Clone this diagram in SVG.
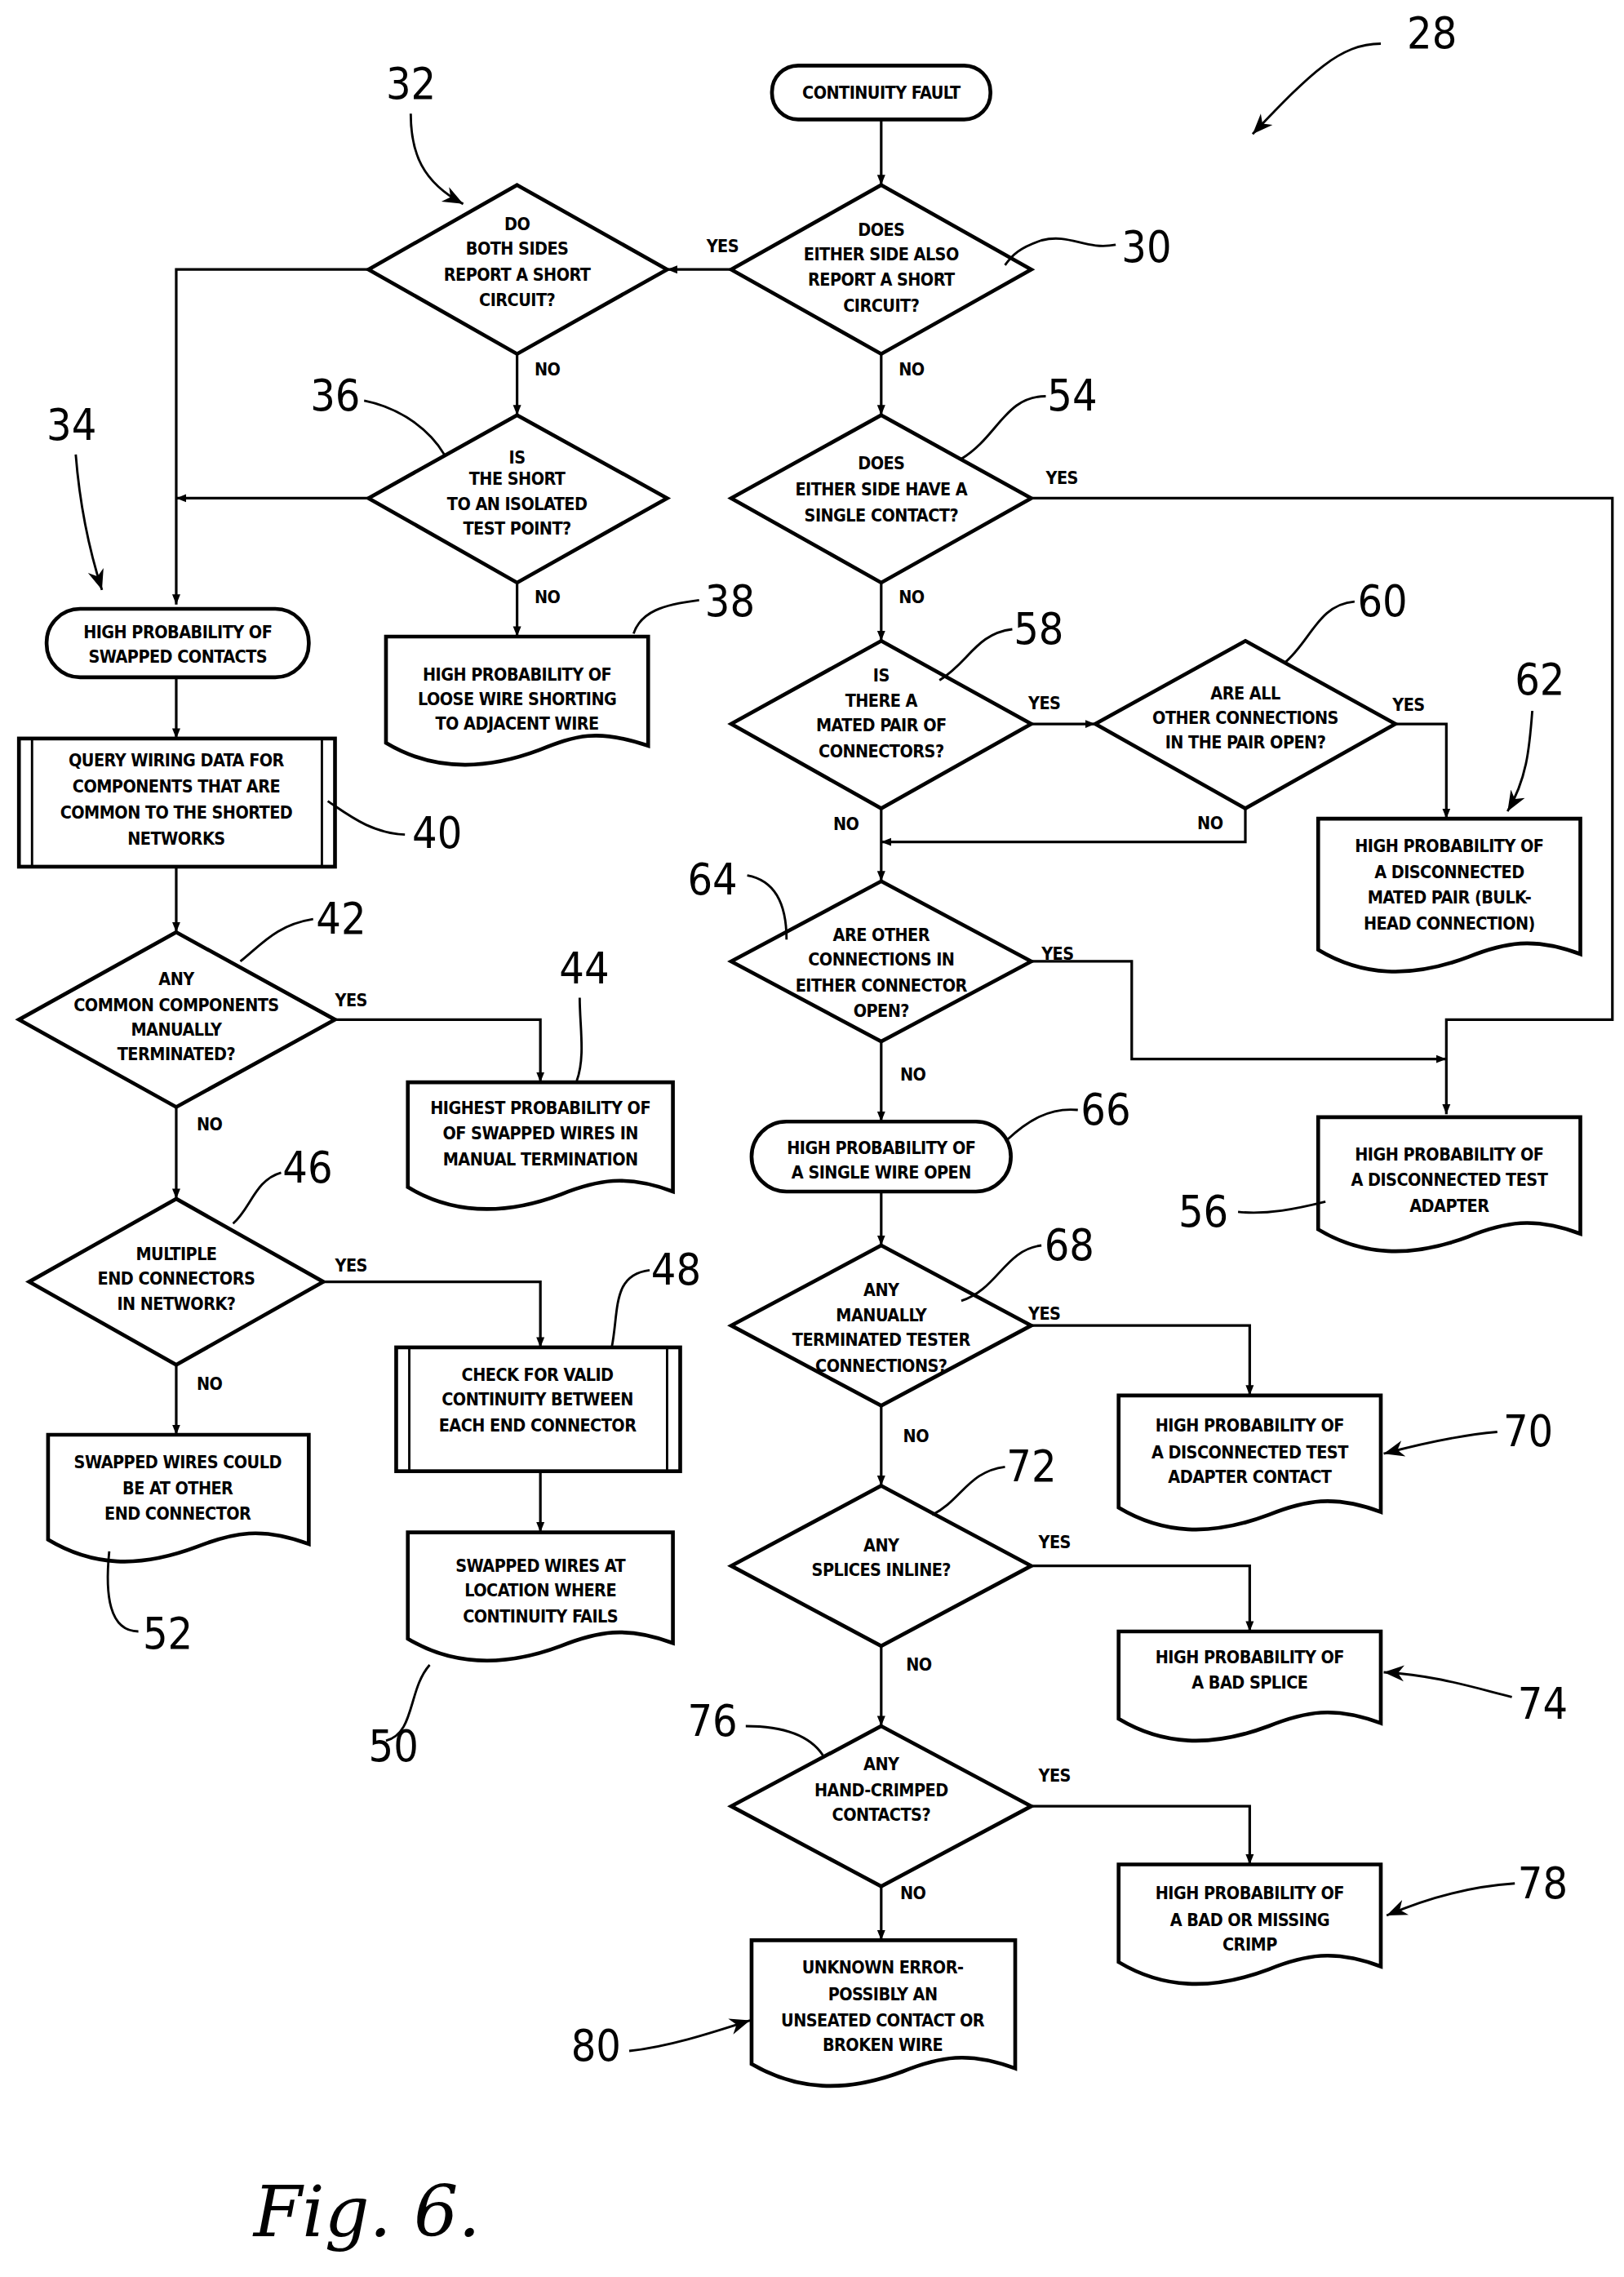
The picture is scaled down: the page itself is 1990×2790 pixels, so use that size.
<svg xmlns="http://www.w3.org/2000/svg" width="1990" height="2790" viewBox="0 0 1990 2790">
<style>
.s{fill:#fff;stroke:#000;stroke-width:2.6}
.c{fill:none;stroke:#000;stroke-width:1.6}
.l{fill:none;stroke:#000;stroke-width:1.8}
text{font-family:"DejaVu Sans Condensed","Liberation Sans",sans-serif;font-weight:bold;font-size:12px;letter-spacing:-0.3px;text-anchor:middle;fill:#000}
.n{font-weight:normal;font-size:30px;letter-spacing:0;text-anchor:start}
.y{font-size:12px;text-anchor:start}
</style>
<defs>
<marker id="a" viewBox="0 0 10 10" refX="10" refY="5" markerWidth="7" markerHeight="7" orient="auto" markerUnits="userSpaceOnUse"><path d="M0,1 L10,5 L0,9 Z"/></marker>
<marker id="b" viewBox="0 0 10 10" refX="10" refY="5" markerWidth="14" markerHeight="14" orient="auto" markerUnits="userSpaceOnUse"><path d="M0,1 L10,5 L0,9 L3,5 Z"/></marker>
</defs>
<rect width="1990" height="2790" fill="#fff"/>
<g transform="scale(1.7848)">
<g id="connectors">
<path class="l" d="M605,82 V127" marker-end="url(#a)"/>
<path class="l" d="M502,185 H458" marker-end="url(#a)"/>
<path class="l" d="M253,185 H121 V415" marker-end="url(#a)"/>
<path class="l" d="M355,243 V285" marker-end="url(#a)"/>
<path class="l" d="M253,342 H121" marker-end="url(#a)"/>
<path class="l" d="M355,400 V437" marker-end="url(#a)"/>
<path class="l" d="M121,465 V507" marker-end="url(#a)"/>
<path class="l" d="M121,595 V640" marker-end="url(#a)"/>
<path class="l" d="M230,700 H371 V743" marker-end="url(#a)"/>
<path class="l" d="M121,760 V823" marker-end="url(#a)"/>
<path class="l" d="M222,880 H371 V925" marker-end="url(#a)"/>
<path class="l" d="M371,1010 V1052" marker-end="url(#a)"/>
<path class="l" d="M121,937 V985" marker-end="url(#a)"/>
<path class="l" d="M605,243 V285" marker-end="url(#a)"/>
<path class="l" d="M708,342 H1107 V700 H993 V765" marker-end="url(#a)"/>
<path class="l" d="M605,400 V440" marker-end="url(#a)"/>
<path class="l" d="M708,497 H752" marker-end="url(#a)"/>
<path class="l" d="M958,497 H993 V562" marker-end="url(#a)"/>
<path class="l" d="M855,555 V578 H605" marker-end="url(#a)"/>
<path class="l" d="M605,555 V605" marker-end="url(#a)"/>
<path class="l" d="M708,660 H777 V727 H993" marker-end="url(#a)"/>
<path class="l" d="M605,715 V770" marker-end="url(#a)"/>
<path class="l" d="M605,818 V855" marker-end="url(#a)"/>
<path class="l" d="M708,910 H858 V958" marker-end="url(#a)"/>
<path class="l" d="M605,965 V1020" marker-end="url(#a)"/>
<path class="l" d="M708,1075 H858 V1120" marker-end="url(#a)"/>
<path class="l" d="M605,1130 V1185" marker-end="url(#a)"/>
<path class="l" d="M708,1240 H858 V1280" marker-end="url(#a)"/>
<path class="l" d="M605,1295 V1332" marker-end="url(#a)"/>
<text class="y" x="485" y="173">YES</text>
<text class="y" x="367" y="258">NO</text>
<text class="y" x="367" y="414">NO</text>
<text class="y" x="230" y="691">YES</text>
<text class="y" x="135" y="776">NO</text>
<text class="y" x="230" y="873">YES</text>
<text class="y" x="135" y="954">NO</text>
<text class="y" x="617" y="258">NO</text>
<text class="y" x="718" y="332">YES</text>
<text class="y" x="617" y="414">NO</text>
<text class="y" x="706" y="487">YES</text>
<text class="y" x="956" y="488">YES</text>
<text class="y" x="572" y="570">NO</text>
<text class="y" x="822" y="569">NO</text>
<text class="y" x="715" y="659">YES</text>
<text class="y" x="618" y="742">NO</text>
<text class="y" x="706" y="906">YES</text>
<text class="y" x="620" y="990">NO</text>
<text class="y" x="713" y="1063">YES</text>
<text class="y" x="622" y="1147">NO</text>
<text class="y" x="713" y="1223">YES</text>
<text class="y" x="618" y="1304">NO</text>
</g>
<g id="n_start"><rect class="s" x="530" y="45" width="150" height="37" rx="18"/><text x="605" y="68">CONTINUITY FAULT</text></g>
<g id="n30"><path class="s" d="M605,127 L708,185 L605,243 L502,185 Z"/><text x="605" y="162">DOES</text><text x="605" y="179">EITHER SIDE ALSO</text><text x="605" y="196">REPORT A SHORT</text><text x="605" y="214">CIRCUIT?</text></g>
<g id="n32"><path class="s" d="M355,127 L458,185 L355,243 L253,185 Z"/><text x="355" y="158">DO</text><text x="355" y="175">BOTH SIDES</text><text x="355" y="193">REPORT A SHORT</text><text x="355" y="210">CIRCUIT?</text></g>
<g id="n36"><path class="s" d="M355,285 L458,342 L355,400 L253,342 Z"/><text x="355" y="318">IS</text><text x="355" y="333">THE SHORT</text><text x="355" y="350">TO AN ISOLATED</text><text x="355" y="367">TEST POINT?</text></g>
<g id="n38"><path class="s" d="M265,437 H445 V512 C410,500 395,505 370,515 C330,530 295,528 265,510 Z"/><text x="355" y="467">HIGH PROBABILITY OF</text><text x="355" y="484">LOOSE WIRE SHORTING</text><text x="355" y="501">TO ADJACENT WIRE</text></g>
<g id="n34"><rect class="s" x="32" y="418" width="180" height="47" rx="23"/><text x="122" y="438">HIGH PROBABILITY OF</text><text x="122" y="455">SWAPPED CONTACTS</text></g>
<g id="n40"><rect class="s" x="13" y="507" width="217" height="88"/><path class="c" d="M22,507 V595 M221,507 V595"/><text x="121" y="526">QUERY WIRING DATA FOR</text><text x="121" y="544">COMPONENTS THAT ARE</text><text x="121" y="562">COMMON TO THE SHORTED</text><text x="121" y="580">NETWORKS</text></g>
<g id="n42"><path class="s" d="M121,640 L230,700 L121,760 L13,700 Z"/><text x="121" y="676">ANY</text><text x="121" y="694">COMMON COMPONENTS</text><text x="121" y="711">MANUALLY</text><text x="121" y="728">TERMINATED?</text></g>
<g id="n44"><path class="s" d="M280,743 H462 V818 C430,806 410,810 385,820 C345,835 310,833 280,815 Z"/><text x="371" y="765">HIGHEST PROBABILITY OF</text><text x="371" y="782">OF SWAPPED WIRES IN</text><text x="371" y="800">MANUAL TERMINATION</text></g>
<g id="n46"><path class="s" d="M121,823 L222,880 L121,937 L20,880 Z"/><text x="121" y="865">MULTIPLE</text><text x="121" y="882">END CONNECTORS</text><text x="121" y="899">IN NETWORK?</text></g>
<g id="n48"><rect class="s" x="272" y="925" width="195" height="85"/><path class="c" d="M281,925 V1010 M458,925 V1010"/><text x="369" y="948">CHECK FOR VALID</text><text x="369" y="965">CONTINUITY BETWEEN</text><text x="369" y="983">EACH END CONNECTOR</text></g>
<g id="n50"><path class="s" d="M280,1052 H462 V1128 C430,1116 410,1120 385,1130 C345,1145 310,1143 280,1125 Z"/><text x="371" y="1079">SWAPPED WIRES AT</text><text x="371" y="1096">LOCATION WHERE</text><text x="371" y="1114">CONTINUITY FAILS</text></g>
<g id="n52"><path class="s" d="M33,985 H212 V1060 C180,1048 160,1052 135,1062 C95,1077 63,1075 33,1057 Z"/><text x="122" y="1008">SWAPPED WIRES COULD</text><text x="122" y="1026">BE AT OTHER</text><text x="122" y="1043">END CONNECTOR</text></g>
<g id="n54"><path class="s" d="M605,285 L708,342 L605,400 L502,342 Z"/><text x="605" y="322">DOES</text><text x="605" y="340">EITHER SIDE HAVE A</text><text x="605" y="358">SINGLE CONTACT?</text></g>
<g id="n58"><path class="s" d="M605,440 L708,497 L605,555 L502,497 Z"/><text x="605" y="468">IS</text><text x="605" y="485">THERE A</text><text x="605" y="502">MATED PAIR OF</text><text x="605" y="520">CONNECTORS?</text></g>
<g id="n60"><path class="s" d="M855,440 L958,497 L855,555 L752,497 Z"/><text x="855" y="480">ARE ALL</text><text x="855" y="497">OTHER CONNECTIONS</text><text x="855" y="514">IN THE PAIR OPEN?</text></g>
<g id="n62"><path class="s" d="M905,562 H1085 V655 C1053,643 1033,647 1008,657 C968,672 935,670 905,652 Z"/><text x="995" y="585">HIGH PROBABILITY OF</text><text x="995" y="603">A DISCONNECTED</text><text x="995" y="620">MATED PAIR (BULK-</text><text x="995" y="638">HEAD CONNECTION)</text></g>
<g id="n64"><path class="s" d="M605,605 L708,660 L605,715 L502,660 Z"/><text x="605" y="646">ARE OTHER</text><text x="605" y="663">CONNECTIONS IN</text><text x="605" y="681">EITHER CONNECTOR</text><text x="605" y="698">OPEN?</text></g>
<g id="n56"><path class="s" d="M905,767 H1085 V847 C1053,835 1033,839 1008,849 C968,864 935,862 905,844 Z"/><text x="995" y="797">HIGH PROBABILITY OF</text><text x="995" y="814">A DISCONNECTED TEST</text><text x="995" y="832">ADAPTER</text></g>
<g id="n66"><rect class="s" x="516" y="770" width="178" height="48" rx="24"/><text x="605" y="792">HIGH PROBABILITY OF</text><text x="605" y="809">A SINGLE WIRE OPEN</text></g>
<g id="n68"><path class="s" d="M605,855 L708,910 L605,965 L502,910 Z"/><text x="605" y="890">ANY</text><text x="605" y="907">MANUALLY</text><text x="605" y="924">TERMINATED TESTER</text><text x="605" y="942">CONNECTIONS?</text></g>
<g id="n70"><path class="s" d="M768,958 H948 V1038 C916,1026 896,1030 871,1040 C831,1055 798,1053 768,1035 Z"/><text x="858" y="983">HIGH PROBABILITY OF</text><text x="858" y="1001">A DISCONNECTED TEST</text><text x="858" y="1018">ADAPTER CONTACT</text></g>
<g id="n72"><path class="s" d="M605,1020 L708,1075 L605,1130 L502,1075 Z"/><text x="605" y="1065">ANY</text><text x="605" y="1082">SPLICES INLINE?</text></g>
<g id="n74"><path class="s" d="M768,1120 H948 V1183 C916,1171 896,1175 871,1185 C831,1200 798,1198 768,1180 Z"/><text x="858" y="1142">HIGH PROBABILITY OF</text><text x="858" y="1159">A BAD SPLICE</text></g>
<g id="n76"><path class="s" d="M605,1185 L708,1240 L605,1295 L502,1240 Z"/><text x="605" y="1215">ANY</text><text x="605" y="1233">HAND-CRIMPED</text><text x="605" y="1250">CONTACTS?</text></g>
<g id="n78"><path class="s" d="M768,1280 H948 V1350 C916,1338 896,1342 871,1352 C831,1367 798,1365 768,1347 Z"/><text x="858" y="1304">HIGH PROBABILITY OF</text><text x="858" y="1322">A BAD OR MISSING</text><text x="858" y="1339">CRIMP</text></g>
<g id="n80"><path class="s" d="M516,1332 H697 V1420 C665,1408 645,1412 620,1422 C580,1437 547,1435 516,1417 Z"/><text x="606" y="1355">UNKNOWN ERROR-</text><text x="606" y="1373">POSSIBLY AN</text><text x="606" y="1391">UNSEATED CONTACT OR</text><text x="606" y="1408">BROKEN WIRE</text></g>
<g id="refs">
<text class="n" x="966" y="33">28</text><path class="c" d="M948,30 C920,30 900,50 860,92" marker-end="url(#b)"/>
<text class="n" x="265" y="68">32</text><path class="c" d="M282,78 C282,105 290,125 318,140" marker-end="url(#b)"/>
<text class="n" x="32" y="302">34</text><path class="c" d="M52,312 C55,350 62,380 70,405" marker-end="url(#b)"/>
<text class="n" x="213" y="282">36</text><path class="c" d="M250,275 C275,280 295,295 305,312"/>
<text class="n" x="484" y="423">38</text><path class="c" d="M480,412 C455,415 440,420 435,435"/>
<text class="n" x="283" y="582">40</text><path class="c" d="M278,573 C255,572 240,560 225,550"/>
<text class="n" x="217" y="641">42</text><path class="c" d="M215,631 C190,635 180,648 165,660"/>
<text class="n" x="384" y="675">44</text><path class="c" d="M398,685 C398,705 402,725 396,742"/>
<text class="n" x="194" y="812">46</text><path class="c" d="M193,805 C175,810 172,830 160,840"/>
<text class="n" x="447" y="882">48</text><path class="c" d="M446,872 C420,875 425,900 420,925"/>
<text class="n" x="253" y="1209">50</text><path class="c" d="M265,1195 C285,1190 280,1160 295,1143"/>
<text class="n" x="98" y="1132">52</text><path class="c" d="M95,1120 C75,1120 72,1095 75,1065"/>
<text class="n" x="770" y="180">30</text><path class="c" d="M766,168 C745,172 735,160 715,165 C700,170 695,175 690,182"/>
<text class="n" x="719" y="282">54</text><path class="c" d="M718,272 C690,272 685,300 660,315"/>
<text class="n" x="809" y="842">56</text><path class="c" d="M850,832 C870,834 890,830 910,825"/>
<text class="n" x="696" y="442">58</text><path class="c" d="M695,432 C670,435 665,455 645,467"/>
<text class="n" x="932" y="423">60</text><path class="c" d="M930,413 C905,415 900,440 882,455"/>
<text class="n" x="1040" y="477">62</text><path class="c" d="M1052,488 C1050,515 1048,535 1035,557" marker-end="url(#b)"/>
<text class="n" x="472" y="614">64</text><path class="c" d="M513,601 C535,605 540,625 540,645"/>
<text class="n" x="742" y="772">66</text><path class="c" d="M740,762 C720,760 705,770 692,782"/>
<text class="n" x="717" y="865">68</text><path class="c" d="M715,855 C690,858 685,885 660,893"/>
<text class="n" x="1032" y="993">70</text><path class="c" d="M1028,983 C1005,985 980,990 950,998" marker-end="url(#b)"/>
<text class="n" x="691" y="1017">72</text><path class="c" d="M690,1007 C665,1010 660,1030 640,1040"/>
<text class="n" x="1042" y="1180">74</text><path class="c" d="M1038,1165 C1010,1158 985,1150 950,1148" marker-end="url(#b)"/>
<text class="n" x="472" y="1192">76</text><path class="c" d="M512,1185 C535,1185 555,1190 565,1205"/>
<text class="n" x="1042" y="1303">78</text><path class="c" d="M1040,1293 C1010,1295 980,1303 952,1315" marker-end="url(#b)"/>
<text class="n" x="392" y="1415">80</text><path class="c" d="M432,1408 C460,1405 490,1395 515,1387" marker-end="url(#b)"/>
<text x="252" y="1535" style="font-family:'DejaVu Serif',serif;font-style:italic;font-weight:normal;font-size:48px;letter-spacing:0">Fig. 6.</text>
</g>
</g>
</svg>
